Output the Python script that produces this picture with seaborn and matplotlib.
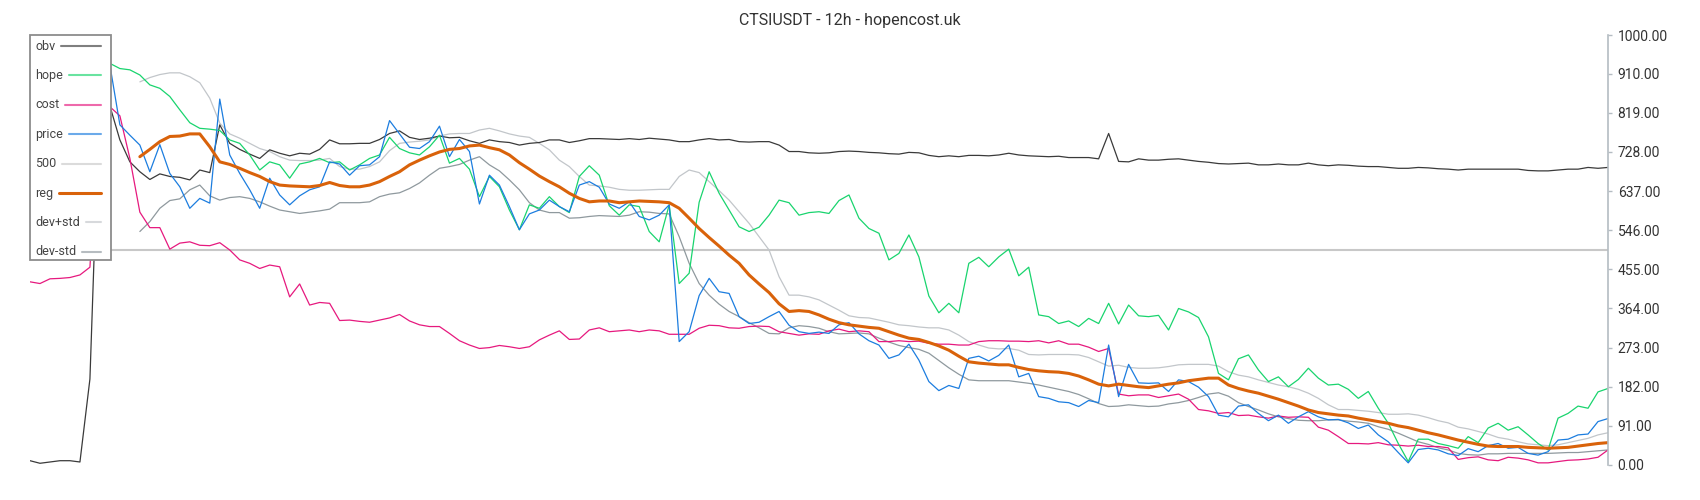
import matplotlib
matplotlib.use("Agg")
import matplotlib.pyplot as plt
from matplotlib.lines import Line2D
from matplotlib.patches import Rectangle
from matplotlib.ticker import FormatStrFormatter
import pandas as pd
import seaborn as sns

title = "CTSIUSDT - 12h - hopencost.uk"
y_ticks = [0, 91, 182, 273, 364, 455, 546, 637, 728, 819, 910, 1000]
legend_order = ["obv", "hope", "cost", "price", "500", "reg", "dev+std", "dev-std"]

# values per 12h candle, index 0..158
obv = [10, 4, 7, 10, 10, 7, 200, 880, 835, 756, 705, 682, 664, 677, 671, 669, 663, 686, 680, 791, 748, 734, 723, 713, 733, 725, 719,
       725, 723, 734, 756, 747, 747, 748, 748, 757, 771, 777, 762, 757, 760, 765, 761, 762, 754, 748, 756, 752, 750, 744, 748, 750, 756,
       756, 750, 754, 759, 759, 758, 757, 759, 757, 760, 758, 756, 752, 752, 756, 759, 756, 757, 752, 751, 752, 752, 744, 729, 729, 726,
       725, 726, 729, 730, 729, 727, 726, 724, 723, 727, 726, 720, 717, 719, 717, 720, 720, 719, 721, 725, 721, 719, 718, 717, 718, 715,
       715, 715, 712, 771, 706, 705, 712, 709, 709, 711, 712, 709, 706, 704, 701, 700, 701, 702, 698, 698, 700, 698, 698, 702, 698, 696,
       698, 697, 695, 694, 694, 692, 690, 690, 692, 691, 689, 688, 686, 688, 688, 688, 688, 688, 688, 685, 684, 684, 686, 688, 688, 692, 690, 692]

cost = [426, 422, 433, 434, 436, 442, 460, 841, 833, 812, 713, 588, 552, 552, 502, 516, 519, 511, 510, 517, 500, 477, 469, 457, 465, 461, 391,
        421, 372, 378, 376, 336, 337, 334, 332, 337, 342, 350, 335, 326, 322, 322, 306, 289, 279, 271, 273, 278, 275, 271, 275, 291, 302,
        312, 292, 293, 314, 319, 310, 312, 314, 310, 314, 312, 304, 304, 304, 318, 325, 324, 319, 318, 322, 323, 322, 310, 306, 302, 305,
        304, 312, 316, 310, 312, 310, 287, 287, 289, 287, 288, 283, 281, 281, 279, 279, 287, 289, 289, 288, 288, 287, 289, 284, 289, 281,
        281, 274, 264, 271, 165, 161, 163, 163, 157, 161, 165, 153, 129, 126, 120, 122, 115, 116, 112, 109, 114, 111, 112, 111, 88, 81,
        66, 50, 50, 49, 52, 47, 46, 44, 46, 43, 43, 40, 13, 17, 19, 12, 10, 18, 16, 12, 5, 5, 8, 11, 12, 14, 18, 35]

# hope and price start at candle 7
hope = [938, 934, 922, 919, 907, 884, 876, 857, 826, 796, 783, 781, 778, 756, 748, 721, 686, 705, 698, 667,
        700, 705, 713, 703, 705, 686, 698, 713, 721, 762, 736, 726, 721, 740, 767, 702, 713, 688, 624, 671, 647, 593, 547, 605, 597, 624,
        601, 587, 671, 696, 674, 603, 581, 605, 601, 543, 519, 605, 422, 446, 611, 682, 632, 593, 554, 543, 553, 581, 616, 610, 581, 587,
        589, 585, 615, 628, 574, 550, 539, 477, 492, 535, 484, 393, 354, 376, 354, 469, 483, 461, 484, 502, 440, 460, 349, 345, 329, 335,
        322, 341, 329, 376, 328, 372, 347, 345, 348, 314, 364, 356, 343, 298, 213, 198, 247, 256, 221, 194, 205, 182, 199, 225, 202, 186,
        188, 176, 155, 171, 132, 97, 50, 8, 60, 60, 50, 45, 39, 66, 52, 86, 97, 81, 89, 70, 50, 35, 109, 120, 137, 132, 170, 178]

price = [942, 930, 791, 767, 744, 682, 745, 678, 647, 597, 620, 609, 851, 721, 678, 640, 597, 667, 628, 605,
         626, 640, 647, 705, 700, 674, 696, 698, 717, 801, 770, 739, 736, 752, 788, 717, 757, 729, 607, 674, 651, 601, 547, 584, 593, 616,
         601, 589, 651, 659, 646, 607, 597, 612, 578, 570, 581, 605, 287, 310, 394, 434, 403, 399, 345, 329, 332, 345, 357, 325, 310, 306,
         309, 306, 326, 331, 305, 289, 279, 248, 256, 281, 244, 194, 173, 185, 178, 248, 253, 242, 255, 279, 205, 213, 159, 155, 147, 145,
         136, 150, 145, 279, 159, 234, 191, 190, 191, 171, 198, 194, 181, 159, 116, 112, 137, 140, 120, 103, 116, 97, 112, 124, 112, 105,
         106, 98, 85, 93, 70, 54, 29, 5, 36, 39, 35, 26, 22, 38, 31, 45, 50, 39, 41, 27, 23, 31, 58, 60, 70, 72, 101, 108]

# regression and bands start at candle 11
reg = [717, 734, 752, 764, 765, 770, 770, 740, 705, 699, 690, 680, 671, 659, 651, 649,
       648, 647, 650, 657, 650, 647, 647, 651, 659, 671, 682, 698, 709, 719, 728, 734, 736, 742, 744, 738, 733, 721, 703, 688, 672, 659,
       647, 632, 620, 612, 614, 614, 610, 612, 614, 613, 612, 610, 597, 574, 550, 529, 509, 488, 469, 442, 421, 401, 375, 357, 359, 357,
       349, 339, 331, 326, 323, 320, 318, 310, 302, 295, 292, 285, 277, 267, 253, 240, 237, 235, 233, 233, 227, 222, 219, 217, 216, 213,
       207, 198, 188, 184, 188, 185, 182, 180, 184, 188, 191, 196, 199, 202, 202, 186, 178, 172, 167, 160, 153, 145, 137, 128, 122, 119,
       116, 114, 109, 105, 101, 97, 91, 87, 81, 75, 70, 64, 58, 53, 48, 44, 43, 43, 43, 41, 40, 39, 40, 41, 44, 47, 50, 52]

dev_plus = [891, 901, 908, 912, 912, 903, 889, 853, 795, 770, 760, 748, 736, 729, 717, 709,
            708, 708, 709, 713, 694, 688, 688, 694, 705, 731, 748, 751, 753, 756, 765, 770, 771, 771, 779, 783, 777, 770, 765, 762, 748, 733,
            709, 694, 671, 651, 649, 646, 641, 639, 639, 640, 641, 641, 671, 686, 680, 659, 638, 616, 589, 562, 531, 500, 438, 395, 395, 391,
            384, 372, 360, 347, 343, 342, 337, 332, 326, 324, 321, 319, 319, 314, 302, 287, 279, 272, 270, 271, 267, 257, 256, 257, 257, 257,
            256, 250, 240, 230, 232, 227, 225, 225, 226, 229, 233, 234, 234, 234, 230, 217, 209, 205, 198, 192, 186, 182, 176, 167, 155, 140,
            129, 129, 127, 125, 122, 118, 118, 119, 116, 110, 103, 98, 88, 84, 78, 72, 64, 60, 54, 49, 47, 45, 47, 52, 57, 62, 70, 75]

dev_minus = [543, 566, 597, 615, 619, 640, 651, 626, 616, 622, 624, 620, 612, 602, 593, 589,
             585, 588, 591, 595, 610, 610, 610, 612, 624, 630, 633, 643, 656, 674, 690, 694, 699, 709, 717, 698, 684, 663, 640, 610, 593, 587,
             587, 574, 575, 578, 580, 579, 578, 581, 589, 588, 585, 584, 531, 469, 422, 395, 374, 357, 345, 331, 319, 306, 305, 319, 324, 322,
             318, 310, 305, 306, 307, 305, 295, 286, 278, 273, 269, 260, 243, 226, 211, 198, 196, 196, 196, 196, 193, 190, 186, 181, 176, 171,
             164, 154, 143, 136, 137, 140, 138, 136, 137, 142, 145, 150, 157, 165, 168, 160, 145, 136, 128, 119, 112, 108, 104, 103, 103, 105,
             105, 102, 100, 97, 89, 83, 74, 64, 54, 48, 40, 35, 27, 24, 23, 26, 26, 27, 27, 27, 27, 27, 28, 29, 29, 31, 33, 35]

level_500 = [500] * len(obv)

series = {
    "obv": (obv, 0),
    "hope": (hope, 7),
    "cost": (cost, 0),
    "price": (price, 7),
    "500": (level_500, 0),
    "reg": (reg, 11),
    "dev+std": (dev_plus, 11),
    "dev-std": (dev_minus, 11),
}

# color, line width
styles = {
    "obv": ("#3a3a3a", 0.9),
    "hope": ("#19d46e", 0.9),
    "cost": ("#e6197e", 0.9),
    "price": ("#1c7ddf", 0.9),
    "500": ("#c8c8c8", 1.5),
    "reg": ("#d9620a", 2.2),
    "dev+std": ("#c2c6ca", 0.9),
    "dev-std": ("#8f999e", 0.9),
}
draw_order = ["500", "dev+std", "dev-std", "obv", "cost", "hope", "price", "reg"]

rows = []
for name, (values, start) in series.items():
    for k, v in enumerate(values):
        rows.append({"candle": start + k, "value": v, "name": name})
df = pd.DataFrame(rows)

sns.set_theme(style="white")
plt.rcParams["font.family"] = ["Roboto", "DejaVu Sans"]

W, H = 1700, 500
fig = plt.figure(figsize=(W / 100, H / 100), dpi=100)
ax = fig.add_axes([30 / W, 35 / H, 1578 / W, 430 / H])

for name in draw_order:
    color, lw = styles[name]
    sns.lineplot(data=df[df["name"] == name], x="candle", y="value",
                 color=color, linewidth=lw, ax=ax)

ax.set_xlim(0, len(obv) - 1)
ax.set_ylim(0, 1000)
ax.set_xlabel("")
ax.set_ylabel("")
ax.set_xticks([])
ax.yaxis.tick_right()
ax.set_yticks(y_ticks)
ax.yaxis.set_major_formatter(FormatStrFormatter("%.2f"))
for side in ["top", "left", "bottom"]:
    ax.spines[side].set_visible(False)
ax.spines["right"].set_color("#b4bcc2")
ax.spines["right"].set_linewidth(1.2)
ax.tick_params(axis="y", colors="#b4bcc2", labelcolor="#333333",
               length=3, width=1, pad=4, labelsize=10)

fig.text(0.5, 1 - 20 / H, title, ha="center", va="center",
         fontsize=11.5, color="#333333")

# legend box: label left, line sample filling the rest of the row
box_l, box_t, box_r, box_b = 30, 35, 111, 260
fig.add_artist(Rectangle((box_l / W, 1 - box_b / H), (box_r - box_l) / W, (box_b - box_t) / H,
                         transform=fig.transFigure, facecolor="white",
                         edgecolor="#8c8c8c", linewidth=1.3, zorder=5))
texts = []
for n, name in enumerate(legend_order):
    y = 1 - (46 + n * 29.4) / H
    t = fig.text(35 / W, y, name, ha="left", va="center", fontsize=9,
                 color="#444444", zorder=6)
    texts.append((name, t, y))

fig.canvas.draw()
renderer = fig.canvas.get_renderer()
for name, t, y in texts:
    bb = t.get_window_extent(renderer)
    color, lw = styles[name]
    x0 = (bb.x1 + 6) / W
    fig.add_artist(Line2D([x0, 101 / W], [y, y], transform=fig.transFigure,
                          color=color, linewidth=2.2 if name == "reg" else 1.5,
                          alpha=1.0 if name == "reg" else 0.65, zorder=6))

fig.savefig("out.png", dpi=100)
